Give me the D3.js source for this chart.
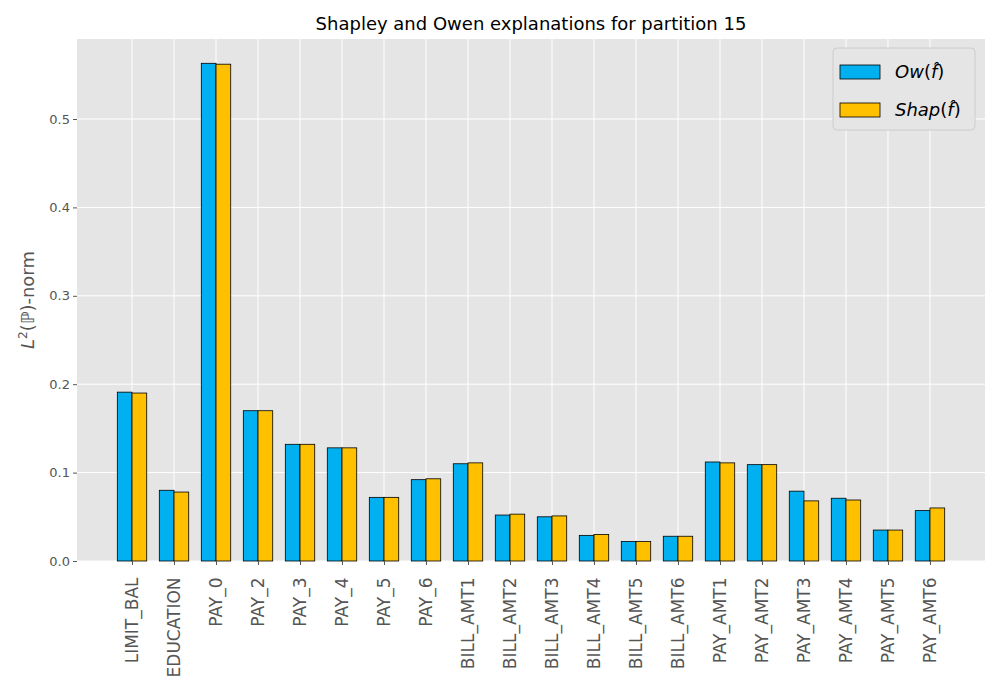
<!DOCTYPE html>
<html><head><meta charset="utf-8">
<script src="https://cdn.jsdelivr.net/npm/d3@7"></script>
<style>body{margin:0;background:#fff}text{font-family:"DejaVu Sans",sans-serif}</style>
</head><body><svg id="c" width="1000" height="700"></svg>
<script>
const categories=["LIMIT_BAL","EDUCATION","PAY_0","PAY_2","PAY_3","PAY_4","PAY_5","PAY_6","BILL_AMT1","BILL_AMT2","BILL_AMT3","BILL_AMT4","BILL_AMT5","BILL_AMT6","PAY_AMT1","PAY_AMT2","PAY_AMT3","PAY_AMT4","PAY_AMT5","PAY_AMT6"];
const owen=[0.191,0.080,0.563,0.170,0.132,0.128,0.072,0.092,0.110,0.052,0.050,0.029,0.022,0.028,0.112,0.109,0.079,0.071,0.035,0.057];
const shap=[0.190,0.078,0.562,0.170,0.132,0.128,0.072,0.093,0.111,0.053,0.051,0.030,0.022,0.028,0.111,0.109,0.068,0.069,0.035,0.060];
const yTicks=[0,0.1,0.2,0.3,0.4,0.5];
const svg=d3.select("#c");
const L=77,R=985,T=39,B=561;
const x=d3.scaleLinear().domain([-1.31,categories.length-1+1.31]).range([L,R]);
const y=d3.scaleLinear().domain([0,0.5905]).range([B,T]);
svg.append("rect").attr("x",L).attr("y",T).attr("width",R-L).attr("height",B-T).attr("fill","#e5e5e5");
const g=svg.append("g");
yTicks.forEach(t=>g.append("line").attr("x1",L).attr("x2",R).attr("y1",y(t)).attr("y2",y(t)).attr("stroke","#fff"));
categories.forEach((c,i)=>g.append("line").attr("x1",x(i)).attr("x2",x(i)).attr("y1",T).attr("y2",B).attr("stroke","#fff"));
const bw=x(0.35)-x(0);
[[owen,"#00b0f0",-1],[shap,"#ffc000",0]].forEach(([vals,col,off])=>{
  svg.selectAll(null).data(vals).enter().append("rect")
   .attr("x",(d,i)=>x(i)+off*bw).attr("width",bw)
   .attr("y",d=>y(d)).attr("height",d=>B-y(d))
   .attr("fill",col).attr("stroke","#000").attr("stroke-width",0.8);
});
const ya=svg.append("g").attr("transform",`translate(${L},0)`).call(d3.axisLeft(y).tickValues(yTicks).tickFormat(d3.format(".1f")).tickSize(4));
ya.select(".domain").remove();
ya.selectAll("line").attr("stroke","#555");
ya.selectAll("text").attr("fill","#555").style("font-size","13px");
const xa=svg.append("g").attr("transform",`translate(0,${B})`).call(d3.axisBottom(x).tickValues(d3.range(categories.length)).tickFormat(i=>categories[i]).tickSize(4));
xa.select(".domain").remove();
xa.selectAll("line").attr("stroke","#555");
xa.selectAll("text").attr("fill","#555").style("font-size","17px")
  .attr("transform","rotate(-90)").attr("text-anchor","end").attr("dx","-0.5em").attr("dy","-0.3em").attr("x",-2).attr("y",0);
xa.selectAll("text").attr("dy","0.35em").attr("x",-8);
svg.append("text").attr("x",(L+R)/2).attr("y",30).attr("text-anchor","middle").style("font-size","18px").text("Shapley and Owen explanations for partition 15");
const yl=svg.append("text").attr("transform",`translate(34,${(T+B)/2}) rotate(-90)`).attr("text-anchor","middle").style("font-size","18px").attr("fill","#555");
yl.append("tspan").style("font-style","italic").text("L");
yl.append("tspan").attr("dy","-7").style("font-size","12px").text("2");
yl.append("tspan").attr("dy","7").text("(ℙ)-norm");
const lg=svg.append("g");
lg.append("rect").attr("x",833).attr("y",48).attr("width",142).attr("height",82).attr("rx",4).attr("fill","#e5e5e5").attr("stroke","#ccc");
[["Ow","#00b0f0",72],["Shap","#ffc000",110]].forEach(([n,c,yy])=>{
  lg.append("rect").attr("x",840).attr("y",yy-7).attr("width",40).attr("height",14).attr("fill",c).attr("stroke","#000").attr("stroke-width",0.8);
  const t=lg.append("text").attr("x",895).attr("y",yy+6).style("font-size","18px");
  t.append("tspan").style("font-style","italic").text(n);
  t.append("tspan").text("(");
  t.append("tspan").style("font-style","italic").text("f\u0302");
  t.append("tspan").text(")");
});
</script></body></html>
